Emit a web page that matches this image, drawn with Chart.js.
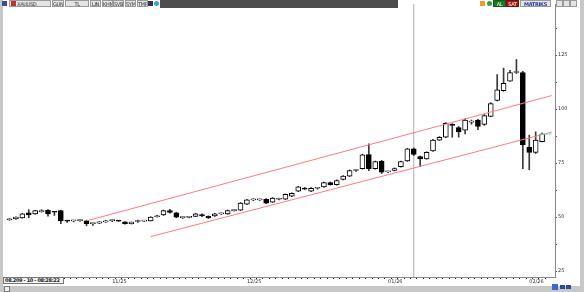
<!DOCTYPE html>
<html>
<head>
<meta charset="utf-8">
<script src="https://cdn.jsdelivr.net/npm/chart.js@4.4.1/dist/chart.umd.min.js"></script>
<style>
html, body { margin: 0; padding: 0; }
body { width: 584px; height: 292px; background: #c8c8c8; position: relative; overflow: hidden; font-family: "DejaVu Sans", sans-serif; }
#panel { position: absolute; left: 3px; top: 0; width: 577px; height: 286px; background: #fff; }
#chart { position: absolute; left: 3px; top: 0; }
.tb { position: absolute; top: 0; height: 7px; font-size: 5px; line-height: 7px; text-align: center; color: #333; background: #e4e4e4; border: 1px solid #9a9a9a; box-sizing: border-box; white-space: nowrap; overflow: hidden; letter-spacing: -0.3px; }
.ic { position: absolute; top: 1px; width: 5px; height: 5px; }
#dark { position: absolute; left: 160px; top: 0; width: 238px; height: 8px; background: #4d4d4d; }
#info { position: absolute; left: 3px; top: 277px; width: 61px; height: 7px; border: 1px solid #777; box-sizing: border-box; font-size: 5px; line-height: 5px; font-weight: bold; color: #222; padding-left: 1px; background: #f4f4f4; white-space: nowrap; overflow: hidden; letter-spacing: -0.35px; }
</style>
</head>
<body>
<div id="panel"></div>
<canvas id="chart" width="577" height="286"></canvas>

<!-- toolbar, left -->
<div class="ic" style="left:2px;background:#3050a0;"></div>
<div class="tb" style="left:9px;width:42px;text-align:left;padding-left:7px;">XAUUSD</div>
<div class="ic" style="left:11px;background:#c03030;"></div>
<div class="tb" style="left:52px;width:12px;">GUN</div>
<div class="tb" style="left:65px;width:24px;">TL</div>
<div class="tb" style="left:90px;width:11px;">LIN</div>
<div class="tb" style="left:102px;width:11px;">KHN</div>
<div class="tb" style="left:113px;width:11px;">SVB</div>
<div class="tb" style="left:125px;width:11px;">SYM</div>
<div class="tb" style="left:137px;width:11px;">TMP</div>
<div class="ic" style="left:148px;background:#334;"></div>
<div class="ic" style="left:154px;background:#3aa0e0;border-radius:50%;"></div>
<div id="dark"></div>

<!-- toolbar, right -->
<div class="ic" style="left:480px;background:#f0a020;"></div>
<div class="ic" style="left:487px;background:#30a040;border-radius:50%;"></div>
<div class="tb" style="left:493px;width:13px;background:#1d7a22;color:#fff;border-color:#145a18;">AL</div>
<div class="tb" style="left:506px;width:13px;background:#a81818;color:#fff;border-color:#701010;">SAT</div>
<div class="tb" style="left:520px;width:31px;color:#2a3a9a;font-weight:bold;">MATRIKS</div>
<div class="tb" style="left:556px;width:7px;"></div>
<div class="tb" style="left:563px;width:7px;"></div>
<div class="tb" style="left:570px;width:7px;"></div>

<!-- bottom -->
<div id="info">08.209 - 10 - 08:28:22</div>
<div class="ic" style="left:4px;top:286px;width:4px;height:4px;border:1px solid #777;background:#eee;"></div>
<div class="ic" style="left:552px;top:284px;width:6px;height:6px;background:#3a6ad0;"></div>
<div class="ic" style="left:560px;top:285px;width:5px;height:4px;background:#2a4aa0;"></div>
<div class="ic" style="left:566px;top:285px;width:5px;height:4px;background:#2a4aa0;"></div>

<script>
// daily candles, oldest first
const opens = [48.8, 49.3, 49.7, 52, 51.5, 52.6, 53.3, 52.4, 53, 48.3,
  48.3, 48.4, 48.3, 47, 47.2, 47.8, 48.4, 48.3, 47.8, 47,
  48, 48.2, 48.3, 50.2, 51, 53, 52, 49.8, 49.9, 50.4,
  51.2, 50.4, 50.6, 51.5, 51.5, 53, 53.3, 56, 58, 58,
  58.3, 57, 58.3, 58.3, 59.7, 62, 63.5, 62, 63.4, 64,
  66, 65, 67.5, 69, 71.6, 72.5, 79, 72.5, 76, 71,
  71.6, 73.4, 76, 81.6, 78, 77, 80.7, 85.7, 87, 93,
  91.5, 90.3, 94, 95, 93, 96.7, 104, 108.6, 113, 117,
  117, 82.5, 80, 85];
const highs = [49.3, 50.2, 51.8, 53.5, 53.2, 53.5, 53.5, 52.6, 53.2, 48.6,
  48.6, 48.9, 48.6, 47.3, 48, 48.6, 48.8, 48.5, 48, 47.8,
  48.6, 48.6, 50.2, 50.9, 53.3, 53.6, 52.3, 50.2, 50.4, 51.8,
  51.5, 50.6, 51.8, 52, 53.3, 53.5, 56.8, 58.3, 58.5, 58.4,
  58.6, 59.1, 58.8, 60.8, 61.3, 64.3, 63.8, 63.7, 63.8, 66.3,
  66.3, 67.3, 69.3, 71.9, 72, 79.2, 84, 76, 76.3, 71.3,
  72.8, 76, 81.9, 82, 78.3, 80.3, 86, 87.3, 93.8, 93.3,
  92, 95.5, 95, 95.3, 97.5, 103, 116, 119, 118, 123,
  117.5, 88, 89.5, 89];
const lows = [48.5, 49, 49.5, 49.7, 51.3, 52.3, 50.5, 50.8, 47, 47.6,
  47.8, 48, 46, 46.2, 47, 47.5, 47.9, 48, 46.8, 46.8,
  47.6, 48, 48.2, 50, 50.8, 51.8, 49.7, 49.4, 49.7, 50.2,
  50.2, 49.4, 50.4, 51.2, 51.3, 52.8, 53, 55.8, 57.6, 57.7,
  56.3, 56.8, 58, 58.1, 59.5, 61.8, 62.8, 61.8, 63, 63.8,
  64.8, 64.8, 67.3, 68.8, 71.2, 72.2, 71.5, 72.2, 70.2, 70.6,
  71.4, 73.2, 75.8, 78.5, 73.5, 76.8, 80.5, 85.5, 86.8, 87,
  87, 88.5, 93, 90.5, 92.5, 96.5, 103.8, 108.3, 112.8, 116.5,
  72.5, 72, 79.5, 84.8];
const closes = [49, 50, 51.5, 51, 53, 53, 51.5, 52.3, 48.3, 48.2,
  48.4, 48.6, 47, 47.1, 47.8, 48.3, 48.5, 48.2, 47, 47.7,
  48.2, 48.3, 50, 50.6, 53, 52.2, 50, 49.8, 50.2, 51.5,
  50.6, 49.7, 51.5, 51.6, 53, 53.2, 56.5, 58, 58.1, 58.1,
  56.5, 58.8, 58.4, 60.6, 61, 64, 63, 63.4, 63.5, 66,
  65, 67, 69, 71.6, 71.7, 78.9, 72.5, 75.7, 70.8, 71,
  72.5, 75.7, 81.6, 79, 77, 80, 85.7, 87, 93.5, 92.5,
  89.5, 95, 94, 92, 97, 102.6, 109, 112, 117, 117,
  83.5, 80, 85.7, 88.5];

// x axis: month labels sit on these candle indices
const monthTicks = [16, 37, 59, 81];
const monthLabels = ['11/25', '12/25', '01/26', '02/26'];
const yTicks = [25, 37.5, 50, 62.5, 75, 87.5, 100, 112.5, 125, 137.5];

// trend channel drawn on the chart (candle index, price)
const upperX = [12, 84.5], upperY = [48.3, 106.3];
const lowerX = [22, 84.5], lowerY = [41, 89.4];
const markerIdx = 63;

const idx = opens.map((_, i) => i);
const up = idx.map(i => closes[i] >= opens[i]);
const lastClose = closes[closes.length - 1];

new Chart(document.getElementById('chart'), {
    type: 'bar',
    data: {
        datasets: [
            {
                label: 'body',
                data: idx.map(i => ({ x: i, y: [opens[i], closes[i]] })),
                backgroundColor: up.map(u => u ? '#ffffff' : '#000000'),
                borderColor: '#000000',
                borderWidth: 1,
                borderSkipped: false,
                barThickness: 5,
                minBarLength: 1,
                grouped: false,
                order: 2
            },
            {
                label: 'wick',
                data: idx.map(i => ({ x: i, y: [lows[i], highs[i]] })),
                backgroundColor: '#3a3a3a',
                barThickness: 1,
                grouped: false,
                order: 3
            },
            {
                type: 'line', label: 'upper',
                data: upperX.map((x, i) => ({ x: x, y: upperY[i] })),
                borderColor: '#ff7c7c', borderWidth: 1, pointRadius: 0, order: 1
            },
            {
                type: 'line', label: 'lower',
                data: lowerX.map((x, i) => ({ x: x, y: lowerY[i] })),
                borderColor: '#ff7c7c', borderWidth: 1, pointRadius: 0, order: 1
            },
            {
                type: 'line', label: 'last',
                data: [{ x: 82.6, y: lastClose }, { x: 84.5, y: lastClose }],
                borderColor: '#5ee0e0', borderWidth: 1, pointRadius: 0, order: 0
            },
            {
                type: 'line', label: 'marker',
                data: [{ x: markerIdx, y: 0 }, { x: markerIdx, y: 200 }],
                borderColor: '#b0b0b0', borderWidth: 1, pointRadius: 0, order: 4
            }
        ]
    },
    options: {
        responsive: false,
        animation: false,
        layout: { padding: 0 },
        plugins: { legend: { display: false }, tooltip: { enabled: false } },
        scales: {
            x: {
                type: 'linear',
                min: -0.5,
                max: 84.5,
                afterBuildTicks: s => { s.ticks = idx.map(i => ({ value: i })); },
                afterFit: s => { s.height = 9; },
                ticks: {
                    autoSkip: false, maxRotation: 0, padding: 0, align: 'start',
                    font: { size: 5, family: 'DejaVu Sans' }, color: '#333',
                    callback: v => {
                        const k = monthTicks.indexOf(v);
                        return k >= 0 ? monthLabels[k] : '';
                    }
                },
                grid: { drawOnChartArea: false, tickLength: 2, color: '#222' },
                border: { color: '#8a8a8a' }
            },
            y: {
                position: 'right',
                min: 22.3,
                max: 148.7,
                afterBuildTicks: s => { s.ticks = yTicks.map(v => ({ value: v })); },
                afterFit: s => { s.width = 25; },
                ticks: {
                    padding: 1,
                    font: { size: 5, family: 'DejaVu Sans' }, color: '#333',
                    callback: v => (v % 25 === 0 ? String(v) : '')
                },
                grid: { drawOnChartArea: false, tickLength: 2, color: '#555' },
                border: { color: '#8a8a8a' }
            }
        }
    }
});
</script>
</body>
</html>
